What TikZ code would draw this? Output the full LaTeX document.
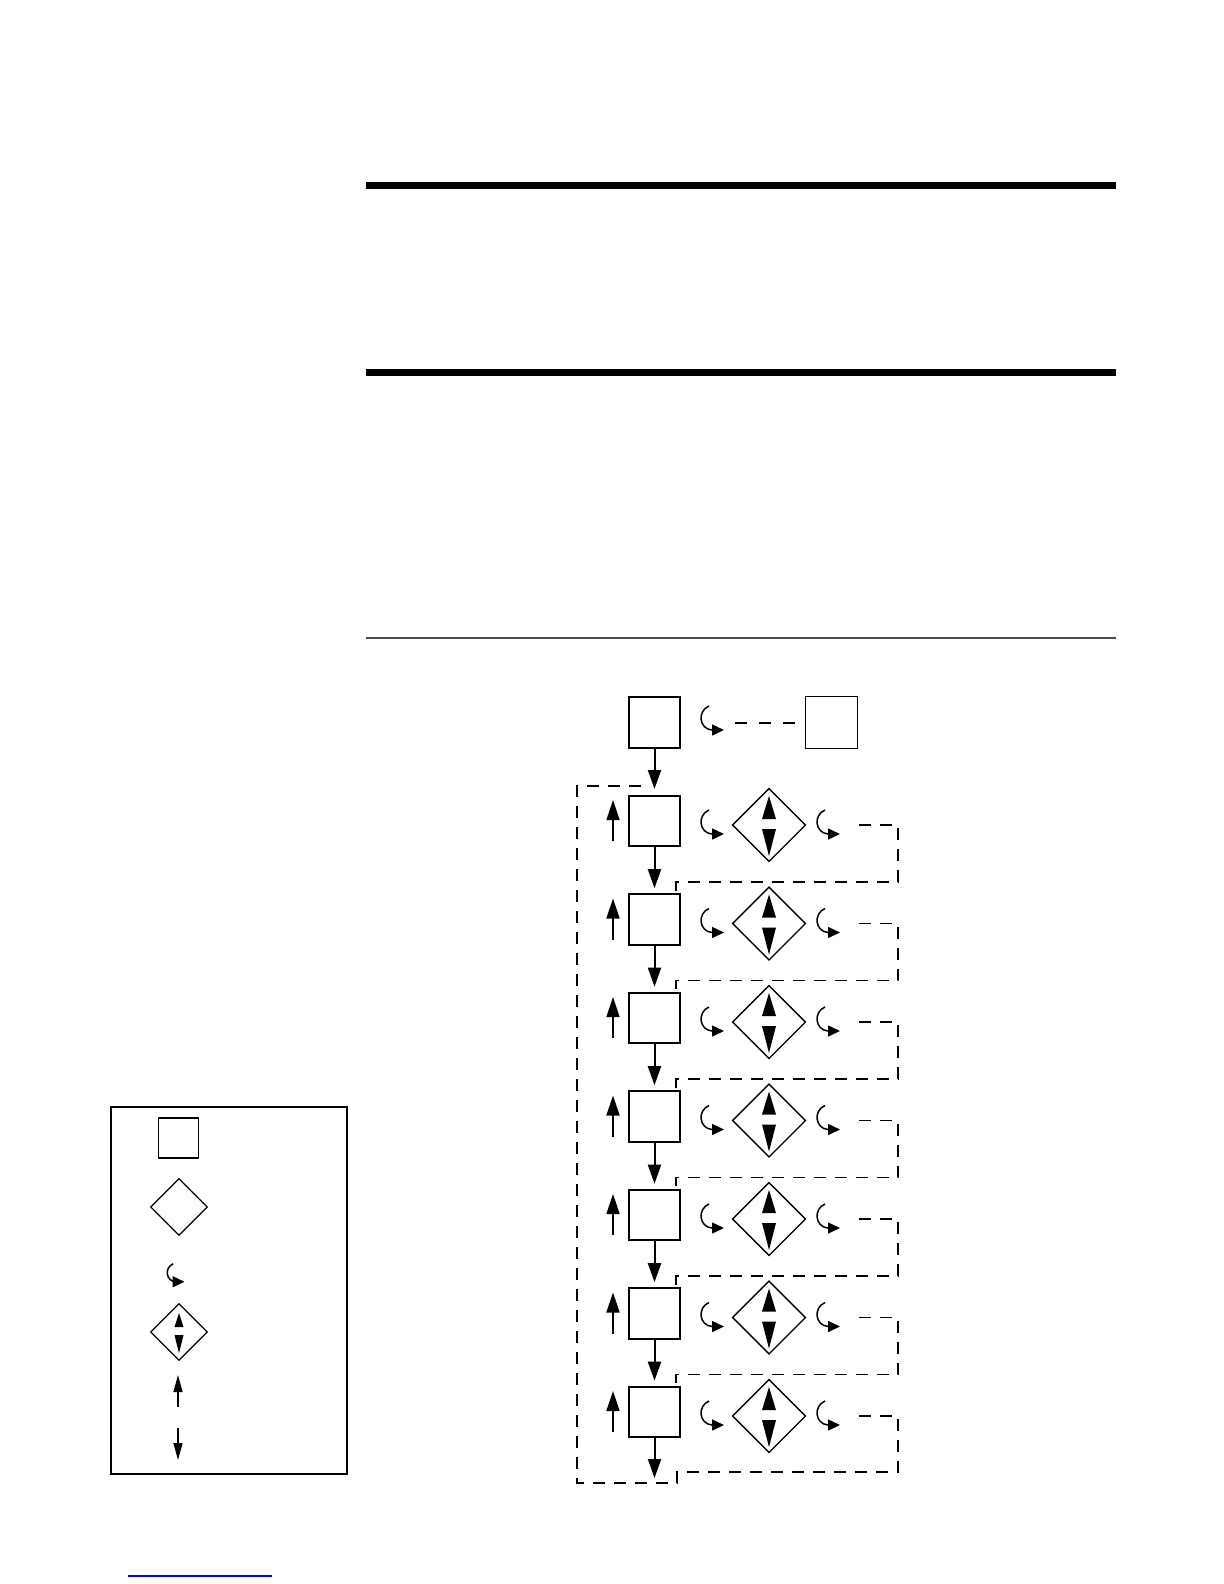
\documentclass[tikz,border=0pt]{standalone}
\usetikzlibrary{arrows.meta,shapes.geometric}
\begin{document}
\begin{tikzpicture}[x=0.5pt,y=-0.5pt,
  mainbox/.style={draw,line width=1.15pt,minimum width=25.3pt,minimum height=25.3pt,inner sep=0pt,outer sep=0pt},
  thinbox/.style={draw,line width=0.65pt,minimum width=25.9pt,minimum height=25.9pt,inner sep=0pt,outer sep=0pt},
  dia/.style={draw,diamond,aspect=1,line width=0.65pt,minimum width=36.4pt,minimum height=36.4pt,inner sep=0pt,outer sep=0pt},
  legsq/.style={draw,line width=0.6pt,minimum width=20pt,minimum height=20pt,inner sep=0pt,outer sep=0pt},
  legdia/.style={draw,diamond,aspect=1,line width=0.6pt,minimum width=28.3pt,minimum height=28.3pt,inner sep=0pt,outer sep=0pt},
  downarr/.style={line width=1pt,-{Triangle[length=9.5pt,width=6.5pt]}},
  uparr/.style={line width=0.8pt,-{Triangle[length=10pt,width=6.5pt]}},
  legarr/.style={line width=0.6pt,-{Triangle[length=8.5pt,width=4.5pt]}},
  curvline/.style={line width=0.75pt,-{Triangle[length=6pt,width=5.5pt]}},
  loopdash/.style={line width=0.7pt,dash pattern=on 6pt off 4.5pt},
  topdash/.style={line width=1pt,dash pattern=on 6pt off 6pt},
  curv/.pic={\draw[curvline] (7,-15) .. controls (-5,-10) and (-3,8) .. (10,9) -- (22,9);}
]
\useasboundingbox (0,0) rectangle (1224,1584);
% header rules
\fill (366,182) rectangle (1116,189);
\fill (366,369) rectangle (1116,376);
\draw[line width=0.8pt,black!70] (366,638) -- (1116,638);
% top row
\node[mainbox] (A) at (654.5,722.5) {};
\node[thinbox] (B) at (831.5,722.5) {};
\pic at (702,721) {curv};
\coordinate (tds) at (735,722.5);
\draw[topdash] (tds) -- (B.west);
\draw[downarr,shorten >=3pt] (A.south) -- (654.5,795);
% rows
\foreach \i in {0,...,6} {
  \pgfmathsetmacro\c{825+98.5*\i}
  \node[mainbox] (r\i) at (654.5,{\c-4}) {};
  \node[dia] (d\i) at (769,\c) {};
  \fill (769,{\c-29}) -- (776,{\c-6}) -- (762,{\c-6}) -- cycle;
  \fill (769,{\c+31}) -- (776,{\c+4}) -- (762,{\c+4}) -- cycle;
  \pic at (702,\c) {curv};
  \pic at (818,\c) {curv};
  \draw[uparr] (613,{\c+16}) -- (613,{\c-25});
}
\foreach \i/\j in {0/1,1/2,2/3,3/4,4/5,5/6} {
  \draw[downarr,shorten >=3pt] (r\i.south) -- (r\j.north);
  \pgfmathsetmacro\c{825+98.5*\i}
  \coordinate (s\i) at (859,\c);
  \draw[loopdash] (s\i) -- (898,\c) -- (898,{\c+57}) -- ([xshift=-2pt]r\j.north east |- 0,{\c+57}) -- ([xshift=-2pt]r\j.north east);
}
\coordinate (bot) at (654.5,1483);
\draw[downarr,shorten >=2.5pt] (r6.south) -- (bot);
\coordinate (s6) at (859,1416);
\coordinate (ltop) at (643,786);
\draw[loopdash] (s6) -- (898,1416) -- (898,1472) -- (677,1472) -- (677,1483) -- (577,1483) -- (577,786) -- (ltop);
% legend
\draw[line width=0.65pt] (111,1107) rectangle (347,1474);
\node[legsq] (l1) at (178.5,1138) {};
\node[legdia] (l2) at (179,1207) {};
\pic[scale=0.75] at (168,1275) {curv};
\node[legdia] (l4) at (179,1332) {};
\fill (179,1313) -- (183.5,1327) -- (174.5,1327) -- cycle;
\fill (179,1353) -- (183.5,1335) -- (174.5,1335) -- cycle;
\draw[legarr] (178,1407) -- (178,1375);
\draw[legarr] (178,1428) -- (178,1460);
% footnote rule
\draw[line width=0.6pt,blue] (128,1576) -- (272,1576);
\end{tikzpicture}
\end{document}
